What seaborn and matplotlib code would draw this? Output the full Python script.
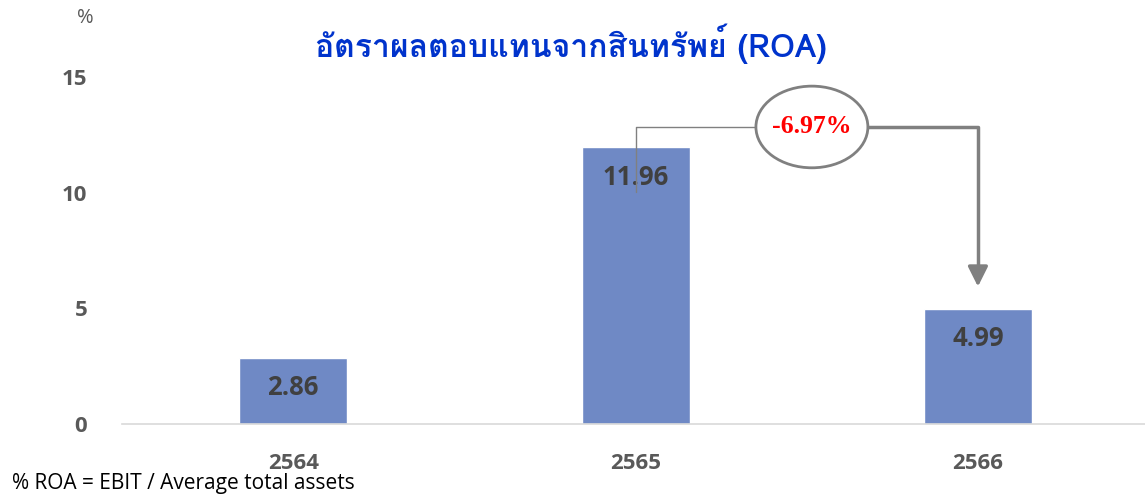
import matplotlib

matplotlib.use("Agg")

import matplotlib.patheffects as path_effects
import matplotlib.pyplot as plt
import pandas as pd
import seaborn as sns
from matplotlib import font_manager
from matplotlib.ft2font import FT2Font
from matplotlib.patches import Ellipse

YEARS = ["2564", "2565", "2566"]
ROA_VALUES = [2.86, 11.96, 4.99]
CHANGE_LABEL = "-6.97%"
TITLE = "อัตราผลตอบแทนจากสินทรัพย์ (ROA)"
FOOTNOTE = "% ROA = EBIT / Average total assets"
Y_TICKS = [0, 5, 10, 15]

BAR_COLOR = "#6F89C5"
TICK_COLOR = "#595959"
LABEL_COLOR = "#404040"
LINE_COLOR = "#808080"
TITLE_COLOR = "#0033CC"


def find_thai_font() -> tuple[str | None, bool]:
    found, has_bold = None, False
    for entry in font_manager.fontManager.ttflist:
        try:
            if 0x0E2D not in FT2Font(entry.fname).get_charmap():
                continue
        except Exception:
            continue
        weight = entry.weight if isinstance(entry.weight, int) else 400
        if found is None:
            found = entry.name
        if weight >= 600:
            return entry.name, True
    return found, has_bold


sns.set_theme(style="white")
plt.rcParams["font.family"] = ["Open Sans", "DejaVu Sans"]
thai_font, thai_bold = find_thai_font()
title_family = [thai_font, "Open Sans", "DejaVu Sans"] if thai_font else ["DejaVu Sans"]

df = pd.DataFrame({"year": YEARS, "roa": ROA_VALUES})

fig = plt.figure(figsize=(11.45, 4.99), dpi=100)
ax = fig.add_axes([0.1066, 0.1503, 0.897, 0.6954])

sns.barplot(data=df, x="year", y="roa", color=BAR_COLOR, width=0.315,
            saturation=1, ax=ax)

ax.set_xlim(-0.5, 2.5)
ax.set_ylim(0, 15)
ax.set_yticks(Y_TICKS)
ax.set_xlabel("")
ax.set_ylabel("")
sns.despine(ax=ax, left=True, top=True, right=True)
ax.spines["bottom"].set_color("#D9D9D9")
ax.spines["bottom"].set_linewidth(1.2)
ax.tick_params(axis="both", length=0, labelsize=16, labelcolor=TICK_COLOR)
ax.tick_params(axis="y", pad=25)
ax.tick_params(axis="x", pad=21)
for label in ax.get_xticklabels() + ax.get_yticklabels():
    label.set_fontweight("bold")

for i, value in enumerate(ROA_VALUES):
    ax.annotate(f"{value:.2f}", (i, value), xytext=(0, -30),
                textcoords="offset pixels", ha="center", va="center",
                fontsize=18.5, fontweight="bold", color=LABEL_COLOR)

# change annotation between 2565 and 2566
y_link = 12.84
ell_x, ell_w, ell_h = 1.515, 0.327, 3.53
ax.plot([1, 1, ell_x - ell_w / 2], [ROA_VALUES[1] - 1.92, y_link, y_link],
        color=LINE_COLOR, lw=1, clip_on=False, zorder=3)
ax.plot([ell_x + ell_w / 2, 2, 2], [y_link, y_link, ROA_VALUES[2] + 1.6],
        color=LINE_COLOR, lw=2.5, clip_on=False, zorder=3)
ax.annotate("", xy=(2, ROA_VALUES[2] + 0.95), xytext=(2, ROA_VALUES[2] + 1.7),
            arrowprops=dict(arrowstyle="-|>,head_length=1.0,head_width=0.5",
                            color=LINE_COLOR, lw=2.5, shrinkA=0, shrinkB=0),
            annotation_clip=False)
ax.add_patch(Ellipse((ell_x, y_link), ell_w, ell_h, facecolor="white",
                     edgecolor=LINE_COLOR, lw=2, clip_on=False, zorder=4))
ax.text(ell_x, y_link, CHANGE_LABEL, ha="center", va="center", fontsize=18.5,
        fontweight="bold", color="red", family=["Liberation Serif"], zorder=5)

title = fig.text(0.499, 0.912, TITLE, ha="center", va="center", fontsize=23,
                 fontweight="bold", color=TITLE_COLOR, family=title_family)
if not thai_bold:
    title.set_path_effects([
        path_effects.withStroke(linewidth=1.3, foreground=TITLE_COLOR)
    ])
fig.text(0.0742, 0.964, "%", ha="center", va="center", fontsize=14.5,
         color=TICK_COLOR)
fig.text(0.0105, 0.032, FOOTNOTE, ha="left", va="center", fontsize=15,
         color="black")

fig.savefig("out.png", dpi=100)
